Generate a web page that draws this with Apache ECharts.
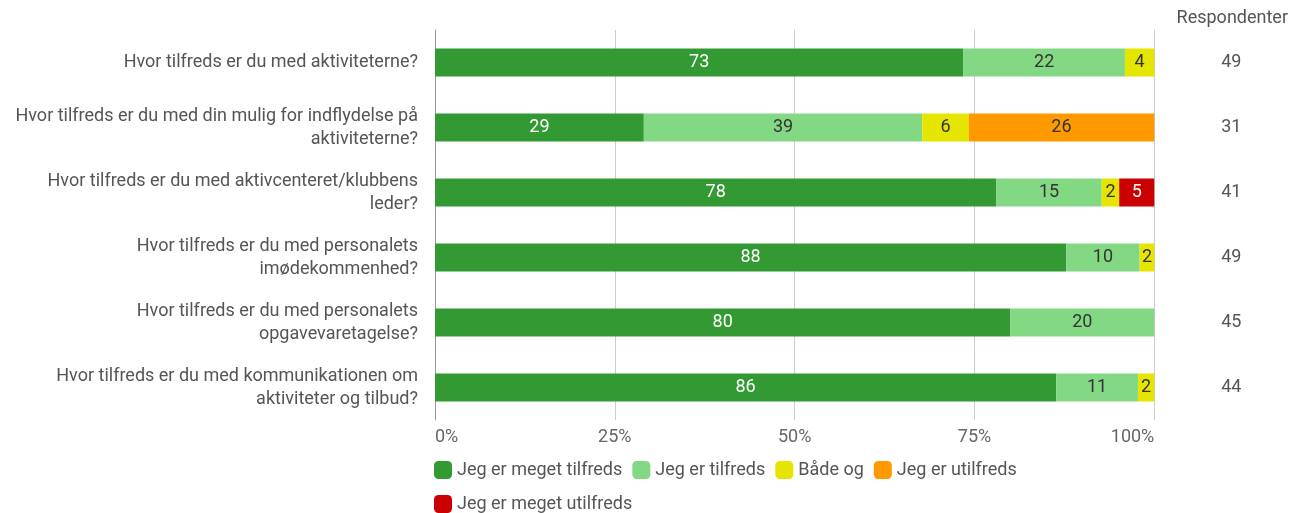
<!DOCTYPE html>
<html>
<head>
    <meta charset="UTF-8">
    <title>tilfredshed</title>
    <script src="https://cdn.jsdelivr.net/npm/echarts@6/dist/echarts.min.js"></script>
    <style>
        body { margin: 0; background: #fff; }
        #main { width: 1291px; height: 513px; }
    </style>
</head>
<body>
<div id="main"></div>
<script type="text/javascript">
    // spørgsmål (linjeskift som i originalen)
    var questions = [
        'Hvor tilfreds er du med aktiviteterne?',
        'Hvor tilfreds er du med din mulig for indflydelse på\naktiviteterne?',
        'Hvor tilfreds er du med aktivcenteret/klubbens\nleder?',
        'Hvor tilfreds er du med personalets\nimødekommenhed?',
        'Hvor tilfreds er du med personalets\nopgavevaretagelse?',
        'Hvor tilfreds er du med kommunikationen om\naktiviteter og tilbud?'
    ];
    var answers = ['Jeg er meget tilfreds', 'Jeg er tilfreds', 'Både og', 'Jeg er utilfreds', 'Jeg er meget utilfreds'];
    var colors = ['#339933', '#83d883', '#e5e500', '#ff9900', '#cc0000'];
    var labelColors = ['#fff', '#333', '#333', '#333', '#fff'];

    // antal svar pr. spørgsmål
    var meget_tilfreds = [36, 9, 32, 43, 36, 38];
    var tilfreds       = [11, 12, 6, 5, 9, 5];
    var baade_og       = [2, 2, 1, 1, 0, 1];
    var utilfreds      = [0, 8, 0, 0, 0, 0];
    var meget_utilfreds = [0, 0, 2, 0, 0, 0];
    var respondenter   = [49, 31, 41, 49, 45, 44];

    var counts = [meget_tilfreds, tilfreds, baade_og, utilfreds, meget_utilfreds];

    var series = [];
    for (var s = 0; s < answers.length; s++) {
        var d = [];
        for (var i = 0; i < questions.length; i++) {
            d.push(counts[s][i] / respondenter[i] * 100);   // andel i procent
        }
        series.push({
            name: answers[s],
            type: 'bar',
            stack: 'alle',
            barWidth: 28,
            data: d,
            itemStyle: { color: colors[s] },
            label: {
                show: true,
                position: 'inside',
                color: labelColors[s],
                fontSize: 18,
                formatter: function (p) {
                    return p.value > 0 ? Math.round(p.value) : '';
                }
            },
            emphasis: { disabled: true }
        });
    }

    var myChart = echarts.init(document.getElementById('main'));
    var option = {
        animation: false,
        textStyle: { fontFamily: 'Roboto' },
        grid: { left: 435, right: 136, top: 30, bottom: 93 },
        legend: {
            left: 429,
            top: 453,
            width: 650,
            itemWidth: 18,
            itemHeight: 18,
            itemGap: 10,
            icon: 'roundRect',
            textStyle: { fontSize: 18, color: '#555', lineHeight: 24 },
            data: answers
        },
        xAxis: {
            type: 'value',
            min: 0,
            max: 100,
            interval: 25,
            axisLabel: {
                formatter: '{value}%', color: '#666', fontSize: 18, margin: 8,
                alignMinLabel: 'left', alignMaxLabel: 'right'
            },
            splitLine: { lineStyle: { color: '#cccccc' } },
            axisLine: { show: false },
            axisTick: { show: false }
        },
        yAxis: [{
            type: 'category',
            inverse: true,
            data: questions,
            axisLine: { show: true, lineStyle: { color: '#999' } },
            axisTick: { show: false },
            axisLabel: { color: '#555', fontSize: 18, lineHeight: 23, margin: 17, align: 'right' }
        }, {
            type: 'category',
            inverse: true,
            position: 'right',
            data: respondenter,
            name: 'Respondenter',
            nameLocation: 'start',
            nameGap: 3,
            nameTextStyle: { color: '#555', fontSize: 18, align: 'center', padding: [0, 0, 0, 156] },
            axisLine: { show: false },
            axisTick: { show: false },
            axisLabel: { color: '#555', fontSize: 18, margin: 77, align: 'center' }
        }],
        series: series
    };
    myChart.setOption(option);
</script>
</body>
</html>
